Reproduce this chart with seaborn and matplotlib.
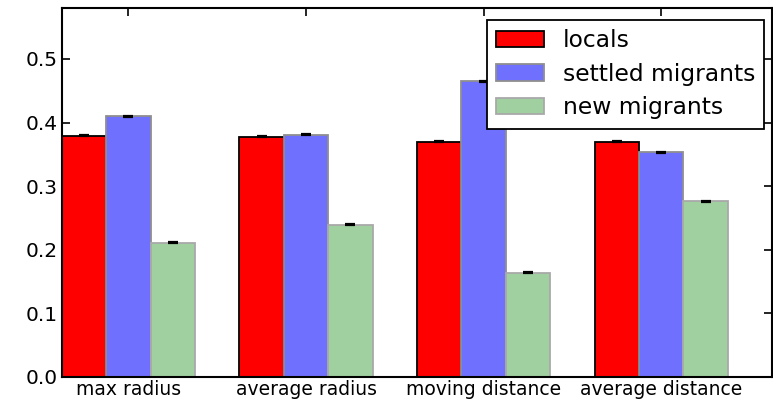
import matplotlib
matplotlib.use("Agg")
import matplotlib.pyplot as plt
from matplotlib.container import BarContainer
import seaborn as sns
import pandas as pd

categories = ["max radius", "average radius", "moving distance", "average distance"]
groups = ["locals", "settled migrants", "new migrants"]
locals_vals = [0.379, 0.378, 0.370, 0.370]
settled_vals = [0.410, 0.381, 0.465, 0.353]
new_vals = [0.211, 0.239, 0.164, 0.276]
err_vals = [0.0008, 0.0008, 0.0008]
yticks = [0.0, 0.1, 0.2, 0.3, 0.4, 0.5]

face = ["#ff0000", "#7070ff", "#a0d0a0"]
edge = ["#000000", "#8f8f8f", "#a9a9a9"]

rows = []
for g, vals in zip(groups, [locals_vals, settled_vals, new_vals]):
    for c, v in zip(categories, vals):
        rows.append({"metric": c, "value": v, "group": g})
df = pd.DataFrame(rows)

sns.set_style("ticks")
plt.rcParams["font.family"] = ["DejaVu Sans"]
plt.rcParams["text.color"] = "black"
plt.rcParams["xtick.color"] = "black"
plt.rcParams["ytick.color"] = "black"
plt.rcParams["xtick.labelcolor"] = "black"
plt.rcParams["ytick.labelcolor"] = "black"
plt.rcParams["axes.labelcolor"] = "black"

fig = plt.figure(figsize=(7.73, 4.0), dpi=100)
ax = fig.add_axes([0.080, 0.0575, 0.919, 0.9225])

sns.barplot(data=df, x="metric", y="value", hue="group", order=categories,
            hue_order=groups, palette=face, width=0.75, gap=0, errorbar=None,
            saturation=1, ax=ax)

bar_conts = [c for c in ax.containers if isinstance(c, BarContainer)]
for cont, fc, ec, err in zip(bar_conts, face, edge, err_vals):
    xs, ys = [], []
    for p in cont.patches:
        p.set_facecolor(fc)
        p.set_edgecolor(ec)
        p.set_linewidth(1.3)
        xs.append(p.get_x() + p.get_width() / 2)
        ys.append(p.get_height())
    ax.errorbar(xs, ys, yerr=err, fmt="none", ecolor="black", elinewidth=1.0,
                capsize=3.5, capthick=1.6, zorder=5)

if ax.get_legend() is not None:
    ax.get_legend().remove()

ax.set_xlim(-0.375, 3.625)
ax.set_ylim(0, 0.58)
ax.set_yticks(yticks)
ax.set_yticklabels([f"{t:.1f}" for t in yticks], fontsize=14.5, color="black")
ax.set_xticks(range(len(categories)))
ax.set_xticklabels(categories, fontsize=13.5, color="black")
ax.set_xlabel("")
ax.set_ylabel("")
ax.tick_params(direction="in", length=5.5, width=1.2, top=True, right=True,
               color="black", pad=3)
ax.tick_params(axis="y", pad=3)
ax.tick_params(axis="x", pad=2)
for s in ax.spines.values():
    s.set_visible(True)
    s.set_color("black")
    s.set_linewidth(1.5)

handles = [c.patches[0] for c in bar_conts]
leg = ax.legend(handles, groups, loc="upper right", bbox_to_anchor=(0.989, 0.9675),
                fontsize=16.8, frameon=True, fancybox=False, framealpha=1,
                edgecolor="black", borderpad=0.4, labelspacing=0.45,
                handlelength=2.05, handleheight=0.7, handletextpad=0.8,
                borderaxespad=0)
leg.get_frame().set_linewidth(1.3)
for t in leg.get_texts():
    t.set_color("black")

fig.savefig("out.png", dpi=100)
